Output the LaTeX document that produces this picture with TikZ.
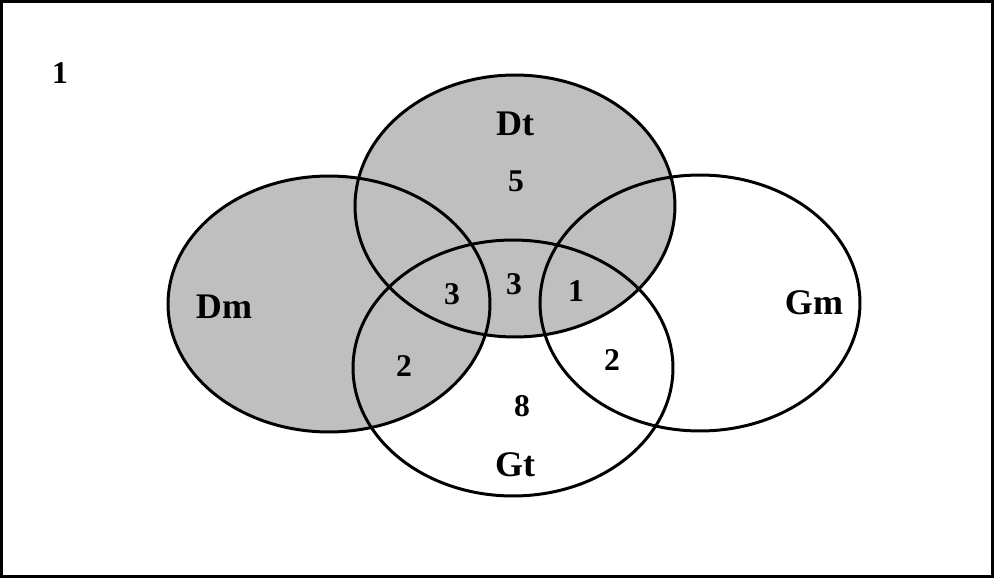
\documentclass[tikz,border=0pt]{standalone}
\usepackage{fontspec}
\setmainfont{Liberation Serif}
\usetikzlibrary{positioning}

\tikzset{
  setname/.style={font=\fontsize{20.5}{24}\selectfont\bfseries, inner sep=0pt},
  count/.style={font=\fontsize{18}{21}\selectfont\bfseries, inner sep=0pt},
  ring/.style={line width=1.7pt}
}

\begin{document}
\begin{tikzpicture}[x=0.02cm, y=-0.02cm]
        % page and frame
        \useasboundingbox (0,0) rectangle (994,578);
        \draw[line width=1.7pt] (1.5,1.5) rectangle (992.5,576.5);

        % shaded sets
        \fill[gray!50] (329,304) ellipse [x radius=3.22cm, y radius=2.56cm];
        \fill[gray!50] (515,206) ellipse [x radius=3.2cm, y radius=2.62cm];

        % draw ellipses
        \draw[ring] (329,304) ellipse [x radius=3.22cm, y radius=2.56cm];
        \draw[ring] (515,206) ellipse [x radius=3.2cm, y radius=2.62cm];
        \draw[ring] (700,303) ellipse [x radius=3.2cm, y radius=2.56cm];
        \draw[ring] (513,368) ellipse [x radius=3.2cm, y radius=2.56cm];

        % set names
        \node[setname] (dm) at (224,307) {Dm};
        \node[setname] (dt) at (515,124) {Dt};
        \node[setname] (gm) at (814,303) {Gm};
        \node[setname] (gt) at (515,465) {Gt};

        % counts
        \foreach \n/\x/\y/\v in {out/60/73/1, dtonly/516/181/5, dmdt/452/294/3,
            dtgt/514/284/3, dtgm/576/291/1, dmgt/404/366/2, gtgm/612/360/2, gtonly/522/406/8}
          \node[count] (\n) at (\x,\y) {\v};
\end{tikzpicture}
\end{document}
